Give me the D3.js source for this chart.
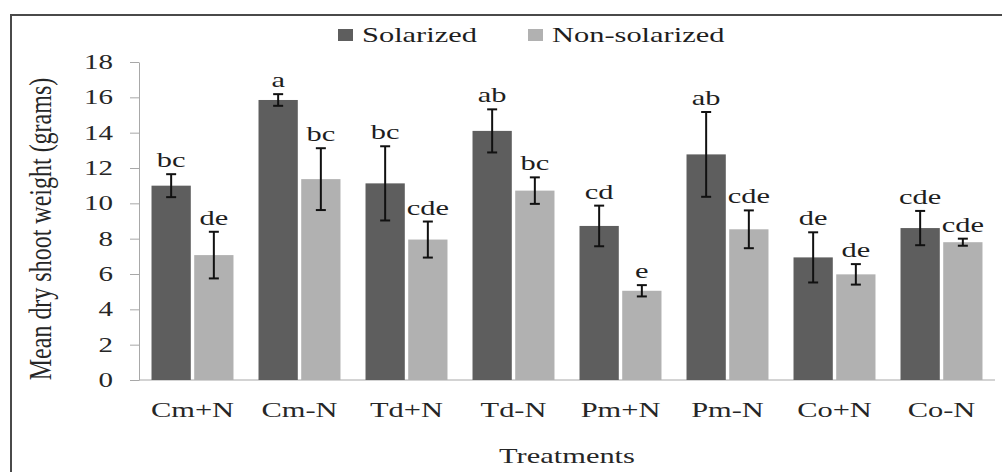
<!DOCTYPE html>
<html>
<head>
<meta charset="utf-8">
<script src="https://cdn.jsdelivr.net/npm/d3@7"></script>
<style>
  html, body { margin: 0; padding: 0; background: #fff; }
  svg { display: block; }
  svg text { font-family: 'Liberation Serif', Tinos, 'Times New Roman', 'DejaVu Serif', serif; }
</style>
</head>
<body>
<svg id="chart"></svg>
<script>
// ── Data ─────────────────────────────────────────────
const treatments = ['Cm+N', 'Cm-N', 'Td+N', 'Td-N', 'Pm+N', 'Pm-N', 'Co+N', 'Co-N'];
const seriesNames = ['Solarized', 'Non-solarized'];
const solarized    = [11.0, 15.85, 11.13, 14.1, 8.72, 12.77, 6.94, 8.6];
const solarizedErr = [0.65, 0.33, 2.1, 1.22, 1.15, 2.4, 1.42, 0.97];
const nonSolar     = [7.07, 11.37, 7.95, 10.72, 5.05, 8.53, 5.98, 7.8];
const nonSolarErr  = [1.32, 1.75, 1.02, 0.75, 0.32, 1.07, 0.58, 0.2];
const solarLetters = ['bc', 'a', 'bc', 'ab', 'cd', 'ab', 'de', 'cde'];
const nonLetters   = ['de', 'bc', 'cde', 'bc', 'e', 'cde', 'de', 'cde'];
const yTicks = [0, 2, 4, 6, 8, 10, 12, 14, 16, 18];

// ── Layout ───────────────────────────────────────────
const W = 1002, H = 472;
const margin = { left: 139, right: 7, top: 62, bottom: 92 };
const SX = 1.45;               // the source picture is stretched sideways
const colors = ['#5e5e5e', '#b1b1b1'];

const svg = d3.select('#chart').attr('width', W).attr('height', H);

// Place a text at (x,y), widened by SX like the original
function wideText(parent, x, y, str, size) {
  return parent.append('text')
    .attr('transform', `translate(${x},${y}) scale(${SX},1)`)
    .attr('fill', '#262626')
    .attr('font-size', size)
    .text(str);
}

// Outer frame (top + left edges visible in the picture)
svg.append('line').attr('x1', 11).attr('x2', W).attr('y1', 15).attr('y2', 15)
  .attr('stroke', '#4a4a4a').attr('stroke-width', 2);
svg.append('line').attr('x1', 11).attr('x2', 11).attr('y1', 14).attr('y2', H)
  .attr('stroke', '#4a4a4a').attr('stroke-width', 2);

const x0 = d3.scaleBand()
  .domain(treatments)
  .range([margin.left, W - margin.right])
  .paddingInner(0.17)
  .paddingOuter(0.085);

const x1 = d3.scaleBand()
  .domain(seriesNames)
  .range([0, x0.bandwidth()])
  .padding(0.08);

const y = d3.scaleLinear()
  .domain([0, 18])
  .range([H - margin.bottom, margin.top]);

// ── Axes ─────────────────────────────────────────────
const yAxis = svg.append('g')
  .attr('transform', `translate(${margin.left},0)`)
  .call(d3.axisLeft(y).tickValues(yTicks).tickSize(9).tickSizeOuter(0));
yAxis.select('.domain').attr('stroke', '#a8a8a8');
yAxis.selectAll('.tick line').attr('stroke', '#a8a8a8');
yAxis.selectAll('.tick text')
  .attr('x', -26 / SX)
  .attr('transform', `scale(${SX},1)`)
  .attr('fill', '#262626').attr('font-family', null).attr('font-size', 20);
yAxis.attr('font-family', null);

svg.append('line')
  .attr('x1', margin.left).attr('x2', W - margin.right)
  .attr('y1', y(0)).attr('y2', y(0))
  .attr('stroke', '#a8a8a8');

const xAxis = svg.append('g')
  .attr('transform', `translate(0,${y(0)})`)
  .call(d3.axisBottom(x0).tickSize(0).tickPadding(22));
xAxis.attr('font-family', null);
xAxis.select('.domain').remove();
xAxis.selectAll('.tick text')
  .attr('transform', `scale(${SX},1)`)
  .attr('fill', '#262626').attr('font-size', 21);

// ── Bars ─────────────────────────────────────────────
const series = [
  { name: seriesNames[0], values: solarized, err: solarizedErr, letters: solarLetters, color: colors[0] },
  { name: seriesNames[1], values: nonSolar,  err: nonSolarErr,  letters: nonLetters,   color: colors[1] },
];

series.forEach(s => {
  const g = svg.append('g');
  treatments.forEach((t, i) => {
    const bx = x0(t) + x1(s.name);
    const bw = x1.bandwidth();
    const cx = bx + bw / 2;
    const v = s.values[i], e = s.err[i];

    g.append('rect')
      .attr('x', bx).attr('y', y(v))
      .attr('width', bw).attr('height', y(0) - y(v))
      .attr('fill', s.color);

    // Error bar
    const eg = g.append('g').attr('stroke', '#111').attr('stroke-width', 2);
    eg.append('line').attr('x1', cx).attr('x2', cx).attr('y1', y(v + e)).attr('y2', y(v - e));
    eg.append('line').attr('x1', cx - 5).attr('x2', cx + 5).attr('y1', y(v + e)).attr('y2', y(v + e));
    eg.append('line').attr('x1', cx - 5).attr('x2', cx + 5).attr('y1', y(v - e)).attr('y2', y(v - e));

    // Significance letters
    wideText(g, cx, y(v + e) - 7, s.letters[i], 21)
      .attr('text-anchor', 'middle')
      .attr('fill', '#1e1e1e');
  });
});

// ── Legend ───────────────────────────────────────────
const legendX = [338, 528];
seriesNames.forEach((n, i) => {
  svg.append('rect')
    .attr('x', legendX[i]).attr('y', 29).attr('width', 15).attr('height', 12)
    .attr('fill', colors[i]);
  wideText(svg, legendX[i] + 24, 42, n, 21).attr('fill', '#1e1e1e');
});

// ── Axis titles ──────────────────────────────────────
wideText(svg, (margin.left + W - margin.right) / 2, 463, 'Treatments', 21)
  .attr('text-anchor', 'middle');

svg.append('text')
  .attr('transform', `translate(51,${(y(0) + y(18)) / 2 + 8}) scale(1.35,1) rotate(-90)`)
  .attr('text-anchor', 'middle')
  .attr('fill', '#262626')
  .attr('font-size', 24)
  .text('Mean dry shoot weight (grams)');
</script>
</body>
</html>
